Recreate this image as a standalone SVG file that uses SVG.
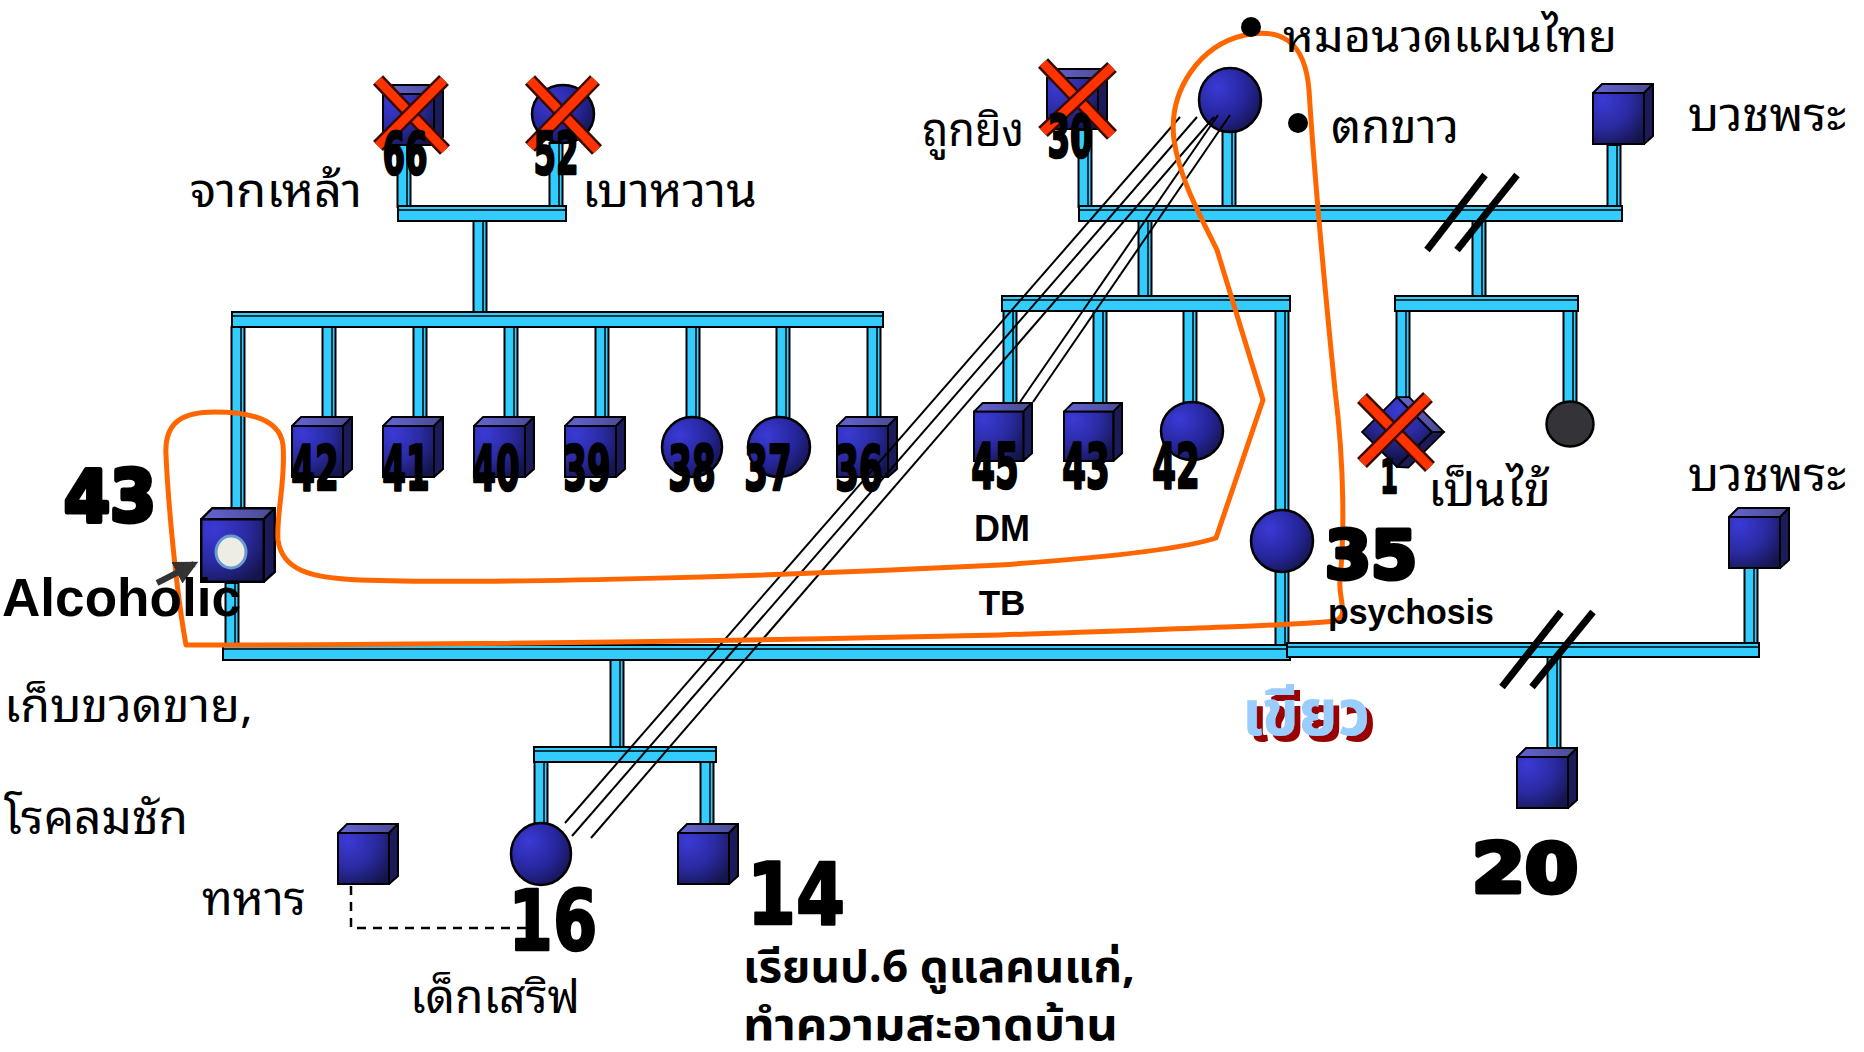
<svg xmlns="http://www.w3.org/2000/svg" xmlns:xlink="http://www.w3.org/1999/xlink" width="1864" height="1052" viewBox="0 0 1864 1052">
  <style>
    .pipe { fill: #33CCFF; stroke: #000; stroke-width: 2; }
    .edge { stroke: #000; stroke-width: 1.5; fill: none; }
    .hash { stroke: #000; stroke-width: 7; }
    .fem { fill: url(#gBall); stroke: #000; stroke-width: 2.5; }
    .xb { stroke: #3a0a00; stroke-width: 14; }
    .xf { stroke: #FF3300; stroke-width: 9; }
    .age { font-family: "DejaVu Sans", sans-serif; font-weight: bold; font-size: 62px; text-anchor: middle; fill: #000; stroke: #000; stroke-width: 2.5; stroke-linejoin: round; }
    .big { font-family: "DejaVu Sans", sans-serif; font-weight: bold; fill: #000; stroke: #000; stroke-width: 5; stroke-linejoin: round; }
    .th { font-family: "Noto Sans Thai Looped", "Noto Sans Thai", "DejaVu Sans", sans-serif; font-size: 46px; fill: #000; }
    .thb { font-family: "Noto Sans Thai", "Noto Sans Thai Looped", "Open Sans", sans-serif; font-size: 44px; font-weight: bold; fill: #000; }
    .lat { font-family: "Liberation Sans", Arial, sans-serif; font-weight: bold; fill: #000; }
    .rel { stroke: #000; stroke-width: 2; }
  </style>
  <defs>
    <radialGradient id="gFront" cx="0.2" cy="0.15" r="1">
      <stop offset="0" stop-color="#3A3AD6"/>
      <stop offset="0.55" stop-color="#2A2AA0"/>
      <stop offset="1" stop-color="#15154E"/>
    </radialGradient>
    <linearGradient id="gTop" x1="0" y1="0" x2="1" y2="0">
      <stop offset="0" stop-color="#6464D4"/>
      <stop offset="1" stop-color="#4A4A90"/>
    </linearGradient>
    <radialGradient id="gBall" cx="0.3" cy="0.3" r="0.8">
      <stop offset="0" stop-color="#3A3AD6"/>
      <stop offset="0.6" stop-color="#25259A"/>
      <stop offset="1" stop-color="#15154E"/>
    </radialGradient>
    <symbol id="cube" viewBox="0 0 62 62">
      <polygon points="1,10 10,1 61,1 52,10" fill="url(#gTop)" stroke="#000" stroke-width="2"/>
      <polygon points="52,10 61,1 61,53 52,61" fill="#1B1B5A" stroke="#000" stroke-width="2"/>
      <rect x="1" y="10" width="51" height="51" fill="url(#gFront)" stroke="#000" stroke-width="2"/>
    </symbol>
    <marker id="arrowHead" viewBox="0 0 10 10" refX="8" refY="5" markerWidth="4" markerHeight="4" orient="auto">
      <path d="M0,0 L10,5 L0,10 Z" fill="#333"/>
    </marker>
    <!-- dark red drop shadow for the nickname -->
    <filter id="redShadow" x="-10%" y="-20%" width="130%" height="150%">
      <feOffset in="SourceAlpha" dx="6" dy="6" result="off"/>
      <feFlood flood-color="#990000"/>
      <feComposite in2="off" operator="in" result="shadow"/>
      <feMerge>
        <feMergeNode in="shadow"/>
        <feMergeNode in="SourceGraphic"/>
      </feMerge>
    </filter>
  </defs>

  <rect width="1864" height="1052" fill="#fff"/>

  <!-- family connectors: 3D pipes -->
  <g id="connectors">
    <!-- vertical pipes -->
    <rect class="pipe" x="397.5" y="140" width="13" height="67"/><line class="edge" x1="407" y1="140" x2="407" y2="207"/>
    <rect class="pipe" x="549.5" y="143" width="13" height="64"/><line class="edge" x1="559" y1="143" x2="559" y2="207"/>
    <rect class="pipe" x="473.5" y="221" width="13" height="92"/><line class="edge" x1="483" y1="221" x2="483" y2="313"/>
    <rect class="pipe" x="231.5" y="327" width="13" height="181"/><line class="edge" x1="241" y1="327" x2="241" y2="508"/>
    <rect class="pipe" x="322.5" y="327" width="13" height="91"/><line class="edge" x1="332" y1="327" x2="332" y2="418"/>
    <rect class="pipe" x="413.5" y="327" width="13" height="91"/><line class="edge" x1="423" y1="327" x2="423" y2="418"/>
    <rect class="pipe" x="504.5" y="327" width="13" height="91"/><line class="edge" x1="514" y1="327" x2="514" y2="418"/>
    <rect class="pipe" x="595.5" y="327" width="13" height="91"/><line class="edge" x1="605" y1="327" x2="605" y2="418"/>
    <rect class="pipe" x="686.5" y="327" width="13" height="91"/><line class="edge" x1="696" y1="327" x2="696" y2="418"/>
    <rect class="pipe" x="776.5" y="327" width="13" height="91"/><line class="edge" x1="786" y1="327" x2="786" y2="418"/>
    <rect class="pipe" x="867.5" y="327" width="13" height="91"/><line class="edge" x1="877" y1="327" x2="877" y2="418"/>
    <rect class="pipe" x="225.5" y="583" width="13" height="63"/><line class="edge" x1="235" y1="583" x2="235" y2="646"/>
    <rect class="pipe" x="1078.5" y="130" width="13" height="77"/><line class="edge" x1="1088" y1="130" x2="1088" y2="207"/>
    <rect class="pipe" x="1222.5" y="131" width="13" height="76"/><line class="edge" x1="1232" y1="131" x2="1232" y2="207"/>
    <rect class="pipe" x="1607.5" y="145" width="13" height="62"/><line class="edge" x1="1617" y1="145" x2="1617" y2="207"/>
    <rect class="pipe" x="1138.5" y="210" width="13" height="86"/><line class="edge" x1="1148" y1="210" x2="1148" y2="296"/>
    <rect class="pipe" x="1472.5" y="220" width="13" height="76"/><line class="edge" x1="1482" y1="220" x2="1482" y2="296"/>
    <rect class="pipe" x="1003.5" y="311" width="13" height="92"/><line class="edge" x1="1013" y1="311" x2="1013" y2="403"/>
    <rect class="pipe" x="1093.5" y="311" width="13" height="92"/><line class="edge" x1="1103" y1="311" x2="1103" y2="403"/>
    <rect class="pipe" x="1183.5" y="311" width="13" height="92"/><line class="edge" x1="1193" y1="311" x2="1193" y2="403"/>
    <rect class="pipe" x="1275.5" y="311" width="13" height="200"/><line class="edge" x1="1285" y1="311" x2="1285" y2="511"/>
    <rect class="pipe" x="1275.5" y="571" width="13" height="75"/><line class="edge" x1="1285" y1="571" x2="1285" y2="646"/>
    <rect class="pipe" x="1396.5" y="311" width="13" height="89"/><line class="edge" x1="1406" y1="311" x2="1406" y2="400"/>
    <rect class="pipe" x="1563.5" y="311" width="13" height="92"/><line class="edge" x1="1573" y1="311" x2="1573" y2="403"/>
    <rect class="pipe" x="1744.5" y="568" width="13" height="76"/><line class="edge" x1="1754" y1="568" x2="1754" y2="644"/>
    <rect class="pipe" x="1547.5" y="657" width="13" height="91"/><line class="edge" x1="1557" y1="657" x2="1557" y2="748"/>
    <rect class="pipe" x="610.5" y="660" width="13" height="88"/><line class="edge" x1="620" y1="660" x2="620" y2="748"/>
    <rect class="pipe" x="534.5" y="762" width="13" height="62"/><line class="edge" x1="544" y1="762" x2="544" y2="824"/>
    <rect class="pipe" x="700.5" y="762" width="13" height="62"/><line class="edge" x1="710" y1="762" x2="710" y2="824"/>

    <!-- horizontal pipes -->
    <rect class="pipe" x="398" y="206" width="168" height="15"/><line class="edge" x1="398" y1="210" x2="566" y2="210"/>
    <rect class="pipe" x="232" y="312" width="651" height="15"/><line class="edge" x1="232" y1="316" x2="883" y2="316"/>
    <rect class="pipe" x="1079" y="206" width="543" height="15"/><line class="edge" x1="1079" y1="210" x2="1622" y2="210"/>
    <rect class="pipe" x="1002" y="296" width="288" height="15"/><line class="edge" x1="1002" y1="300" x2="1290" y2="300"/>
    <rect class="pipe" x="1395" y="296" width="183" height="15"/><line class="edge" x1="1395" y1="300" x2="1578" y2="300"/>
    <rect class="pipe" x="223" y="645" width="1067" height="15"/><line class="edge" x1="223" y1="649" x2="1290" y2="649"/>
    <rect class="pipe" x="1287" y="643" width="472" height="14"/><line class="edge" x1="1287" y1="647" x2="1759" y2="647"/>
    <rect class="pipe" x="534" y="747" width="182" height="15"/><line class="edge" x1="534" y1="751" x2="716" y2="751"/>

    <!-- separation marks -->
    <line class="hash" x1="1485" y1="175" x2="1427" y2="250"/>
    <line class="hash" x1="1517" y1="175" x2="1457" y2="250"/>
    <line class="hash" x1="1561" y1="612" x2="1502" y2="687"/>
    <line class="hash" x1="1593" y1="612" x2="1532" y2="687"/>

    <!-- partner link (dashed) -->
    <path d="M351,886 V928 H534 V885" fill="none" stroke="#000" stroke-width="2.5" stroke-dasharray="9,7"/>
  </g>

  <!-- grandparents, left -->
  <g id="n-66">
    <use href="#cube" x="382" y="84" width="62" height="62"/>
    <line class="xb" x1="378" y1="80" x2="445" y2="150"/><line class="xf" x1="378" y1="80" x2="445" y2="150"/>
    <line class="xb" x1="444" y1="80" x2="378" y2="146"/><line class="xf" x1="444" y1="80" x2="378" y2="146"/>
    <text class="age" style="font-size:59px" transform="translate(405,174) scale(0.55,1)">66</text>
  </g>
  <g id="n-52">
    <ellipse class="fem" cx="563" cy="114" rx="31" ry="29"/>
    <line class="xb" x1="530" y1="80" x2="597" y2="150"/><line class="xf" x1="530" y1="80" x2="597" y2="150"/>
    <line class="xb" x1="595" y1="80" x2="530" y2="147"/><line class="xf" x1="595" y1="80" x2="530" y2="147"/>
    <text class="age" style="font-size:59px" transform="translate(556,174) scale(0.55,1)">52</text>
  </g>

  <!-- siblings, left family -->
  <g id="n-43a">
    <use href="#cube" x="200" y="507" width="76" height="76"/>
    <ellipse cx="231" cy="552" rx="15" ry="16" fill="#EEEDE4" stroke="#6A9AD0" stroke-width="3"/>
  </g>
  <g id="n-42a"><use href="#cube" x="291" y="416" width="62" height="62"/><text class="age" transform="translate(315,490) scale(0.55,1)">42</text></g>
  <g id="n-41"><use href="#cube" x="382" y="416" width="62" height="62"/><text class="age" transform="translate(406,490) scale(0.55,1)">41</text></g>
  <g id="n-40"><use href="#cube" x="473" y="416" width="62" height="62"/><text class="age" transform="translate(496,490) scale(0.55,1)">40</text></g>
  <g id="n-39"><use href="#cube" x="564" y="416" width="62" height="62"/><text class="age" transform="translate(587,490) scale(0.55,1)">39</text></g>
  <g id="n-38"><ellipse class="fem" cx="692" cy="447" rx="30" ry="30"/><text class="age" transform="translate(692,490) scale(0.55,1)">38</text></g>
  <g id="n-37"><ellipse class="fem" cx="779" cy="447" rx="31" ry="30"/><text class="age" transform="translate(768,490) scale(0.55,1)">37</text></g>
  <g id="n-36"><use href="#cube" x="836" y="416" width="62" height="62"/><text class="age" transform="translate(859,490) scale(0.55,1)">36</text></g>

  <!-- grandparents, middle -->
  <g id="n-30">
    <use href="#cube" x="1046" y="68" width="62" height="62"/>
    <line class="xb" x1="1043" y1="63" x2="1112" y2="135"/><line class="xf" x1="1043" y1="63" x2="1112" y2="135"/>
    <line class="xb" x1="1112" y1="67" x2="1043" y2="132"/><line class="xf" x1="1112" y1="67" x2="1043" y2="132"/>
    <text class="age" style="font-size:59px" transform="translate(1070,157) scale(0.55,1)">30</text>
  </g>
  <g id="n-healer"><ellipse class="fem" cx="1230" cy="100" rx="31" ry="32"/></g>
  <g id="n-monk1"><use href="#cube" x="1592" y="83" width="62" height="62"/></g>

  <!-- siblings, middle family -->
  <g id="n-45"><use href="#cube" x="973" y="402" width="60" height="60"/><text class="age" transform="translate(995,488) scale(0.55,1)">45</text></g>
  <g id="n-43b"><use href="#cube" x="1063" y="402" width="60" height="60"/><text class="age" transform="translate(1086,488) scale(0.55,1)">43</text></g>
  <g id="n-42b"><ellipse class="fem" cx="1192" cy="431" rx="31" ry="29"/><text class="age" transform="translate(1176,488) scale(0.55,1)">42</text></g>
  <g id="n-35"><ellipse class="fem" cx="1282" cy="541" rx="31" ry="31"/></g>

  <!-- right family -->
  <g id="n-1">
    <use href="#cube" x="-30" y="-30" width="60" height="60" transform="translate(1403,432) rotate(45)"/>
    <line class="xb" x1="1362" y1="398" x2="1430" y2="467"/><line class="xf" x1="1362" y1="398" x2="1430" y2="467"/>
    <line class="xb" x1="1428" y1="397" x2="1362" y2="463"/><line class="xf" x1="1428" y1="397" x2="1362" y2="463"/>
    <text class="age" style="font-size:46px" transform="translate(1389,493) scale(0.55,1)">1</text>
  </g>
  <g id="n-grey"><ellipse cx="1570" cy="424" rx="23.5" ry="22.5" fill="#333338" stroke="#000" stroke-width="2.5"/></g>
  <g id="n-monk2"><use href="#cube" x="1728" y="507" width="62" height="62"/></g>
  <g id="n-20"><use href="#cube" x="1516" y="747" width="62" height="62"/></g>

  <!-- youngest generation -->
  <g id="n-soldier"><use href="#cube" x="337" y="823" width="62" height="62"/></g>
  <g id="n-16"><ellipse class="fem" cx="541" cy="854" rx="30" ry="31"/></g>
  <g id="n-14"><use href="#cube" x="677" y="823" width="62" height="62"/></g>

  <!-- close-relationship lines -->
  <g id="relations">
    <line class="rel" x1="1180" y1="117" x2="565" y2="823"/>
    <line class="rel" x1="1197" y1="117" x2="572" y2="836"/>
    <line class="rel" x1="1214" y1="117" x2="591" y2="838"/>
    <line class="rel" x1="1218" y1="115" x2="1020" y2="402"/>
    <line class="rel" x1="1230" y1="115" x2="1033" y2="402"/>
  </g>

  <!-- household boundary -->
  <path id="household" d="M186,645 C176,590 168,500 166,455 C164,420 185,412 215,412 C250,412 280,420 283,445 C286,480 276,515 278,540 C282,570 310,578 360,580 C500,585 800,575 1000,565 C1100,558 1180,550 1216,538 L1263,400 L1217,250 C1200,215 1180,180 1174,140 C1168,90 1200,45 1245,35 C1280,28 1305,40 1309,90 C1314,170 1322,260 1335,390 C1345,470 1344,540 1340,580 C1338,600 1350,615 1335,621 C1300,625 1200,628 1000,635 C700,642 400,645 186,645 Z" fill="none" stroke="#FF6600" stroke-width="5" stroke-linejoin="round"/>

  <!-- pointer to index person -->
  <line x1="157" y1="583" x2="194" y2="564" stroke="#333" stroke-width="6" marker-end="url(#arrowHead)"/>

  <!-- large ages -->
  <text class="big" x="64" y="521" font-size="72" textLength="92" lengthAdjust="spacingAndGlyphs">43</text>
  <text class="big" x="1325" y="578" font-size="66" textLength="92" lengthAdjust="spacingAndGlyphs">35</text>
  <text class="big" x="1472" y="892" font-size="68" textLength="106" lengthAdjust="spacingAndGlyphs">20</text>
  <text class="age" style="font-size:86px" transform="translate(796,924) scale(0.82,1)">14</text>
  <text class="age" style="font-size:84px" transform="translate(553,950) scale(0.76,1)">16</text>

  <!-- notes -->
  <text class="th" x="190" y="207" textLength="172" lengthAdjust="spacingAndGlyphs">จากเหล้า</text>
  <text class="th" x="582" y="207" textLength="175" lengthAdjust="spacingAndGlyphs">เบาหวาน</text>
  <text class="th" x="922" y="146" textLength="102" lengthAdjust="spacingAndGlyphs">ถูกยิง</text>
  <circle cx="1251" cy="27" r="10" fill="#000"/>
  <text class="th" x="1283" y="52" style="font-size:44px" textLength="334" lengthAdjust="spacingAndGlyphs">หมอนวดแผนไทย</text>
  <circle cx="1298" cy="123" r="10" fill="#000"/>
  <text class="th" x="1331" y="143" textLength="128" lengthAdjust="spacingAndGlyphs">ตกขาว</text>
  <text class="th" x="1688" y="131" textLength="158" lengthAdjust="spacingAndGlyphs">บวชพระ</text>
  <text class="th" x="1688" y="491" textLength="158" lengthAdjust="spacingAndGlyphs">บวชพระ</text>
  <text class="th" x="1428" y="506" textLength="123" lengthAdjust="spacingAndGlyphs">เป็นไข้</text>
  <text class="lat" x="2" y="616" font-size="53" textLength="239" lengthAdjust="spacingAndGlyphs">Alcoholic</text>
  <text class="th" x="4" y="722" textLength="249" lengthAdjust="spacingAndGlyphs">เก็บขวดขาย,</text>
  <text class="th" x="4" y="834" textLength="184" lengthAdjust="spacingAndGlyphs">โรคลมชัก</text>
  <text class="th" x="202" y="915" textLength="104" lengthAdjust="spacingAndGlyphs">ทหาร</text>
  <text class="th" x="410" y="1013" textLength="170" lengthAdjust="spacingAndGlyphs">เด็กเสริฟ</text>
  <text class="thb" x="743" y="982" textLength="392" lengthAdjust="spacingAndGlyphs">เรียนป.6 ดูแลคนแก่,</text>
  <text class="thb" x="743" y="1040" textLength="375" lengthAdjust="spacingAndGlyphs">ทำความสะอาดบ้าน</text>
  <text class="lat" x="1002" y="541" font-size="36" text-anchor="middle">DM</text>
  <text class="lat" x="1002" y="615" font-size="35" text-anchor="middle">TB</text>
  <text class="lat" x="1328" y="624" font-size="35" textLength="166" lengthAdjust="spacingAndGlyphs">psychosis</text>
  <text id="nickname" class="thb" x="1242" y="735" style="font-size:64px;fill:#99CCFF" filter="url(#redShadow)" textLength="128" lengthAdjust="spacingAndGlyphs">เขียว</text>
</svg>
